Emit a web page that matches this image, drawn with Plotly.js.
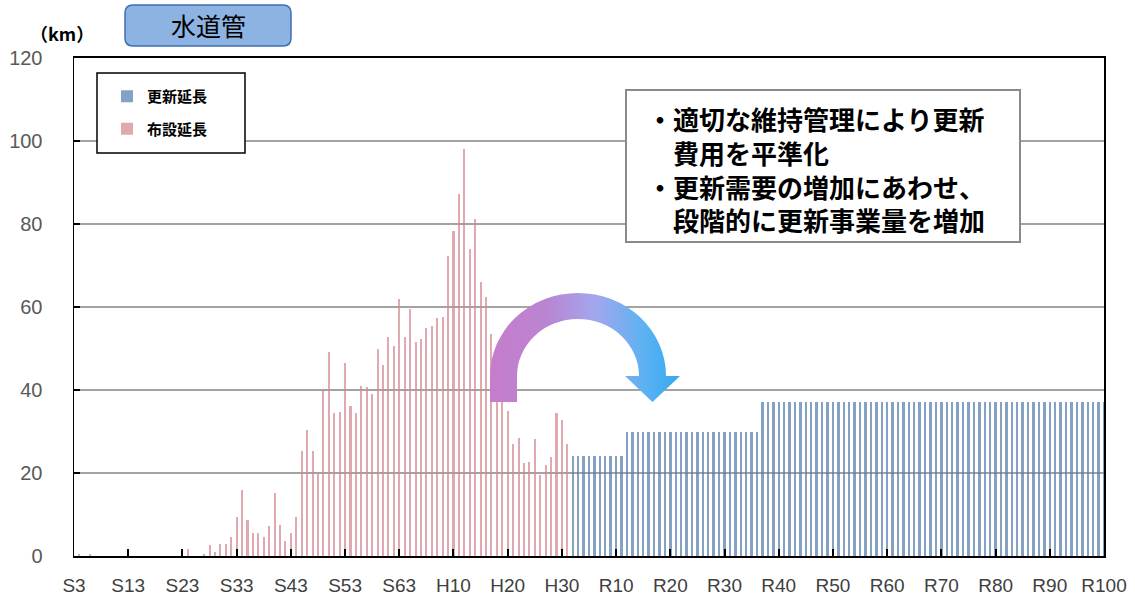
<!DOCTYPE html>
<html>
<head>
<meta charset="utf-8">
<script src="https://cdn.plot.ly/plotly-3.0.1.min.js"></script>
<style>
  html, body { margin: 0; padding: 0; background: #ffffff; }
  #wrap { position: relative; width: 1135px; height: 599px; }
  #chart { position: absolute; left: 0; top: 0; width: 1135px; height: 599px; }
  #arrow { position: absolute; left: 0; top: 0; pointer-events: none; }
</style>
</head>
<body>
<div id="wrap">
  <div id="chart"></div>
  <svg id="arrow" width="1135" height="599" viewBox="0 0 1135 599">
    <defs>
      <linearGradient id="ag" x1="490" y1="0" x2="680" y2="0" gradientUnits="userSpaceOnUse">
        <stop offset="0" stop-color="#c67ccb"/>
        <stop offset="0.3" stop-color="#b985d2"/>
        <stop offset="0.55" stop-color="#a3a6ee"/>
        <stop offset="0.8" stop-color="#5fb2f2"/>
        <stop offset="1" stop-color="#33a9f0"/>
      </linearGradient>
    </defs>
    <path d="M 490 402 L 490 376 A 88 83 0 0 1 666 376 L 680 376 L 652.5 402 L 625 376 L 639 376 A 61 57 0 0 0 517 376 L 517 402 Z" fill="url(#ag)"/>
  </svg>
</div>
<script>
// ---- data ----
// 布設延長 (laid length, km), fiscal years 1928 (S3) .. 2019 (R1)
const layYears = [];
for (let y = 1928; y <= 2019; y++) layYears.push(y);
const layLength = [
  0, 0.5, 0, 0.6, 0, 0, 0, 0, 0, 0,            // 1928-1937
  0, 0, 0, 0, 0, 0, 0, 0, 0, 0,                // 1938-1947
  0, 1.8, 0, 0, 0.6, 2.6, 1, 3, 3, 4.7,        // 1948-1957
  9.5, 16, 8.7, 5.5, 5.5, 4.7, 7.2, 15.3, 7.5, 3.5,      // 1958-1967
  5.6, 9.5, 25.3, 30.3, 25.3, 20, 40, 49.2, 34.4, 34.8,  // 1968-1977
  46.6, 36.1, 34.4, 41, 40.7, 39, 50, 46, 52.7, 50.6,    // 1978-1987
  61.9, 52.8, 59.5, 51.6, 52.4, 55, 55.4, 57.4, 57.7, 72.3, // 1988-1997
  78.4, 87.3, 98, 73.9, 81.2, 66.1, 62.4, 53.6, 45, 40,  // 1998-2007
  35, 27, 28.5, 22.3, 22.7, 28.1, 19.5, 22, 23.9, 34.4,  // 2008-2017
  32.8, 27                                               // 2018-2019
];
// 更新延長 (renewal length, km), 2020 (R2) .. 2118 (R100)
const renewYears = [];
for (let y = 2020; y <= 2118; y++) renewYears.push(y);
const renewLength = [
  24, 24, 24, 24, 24, 24, 24, 24, 24, 24,      // 2020-2029
  30, 30, 30, 30, 30, 30, 30, 30, 30, 30,      // 2030-2039
  30, 30, 30, 30, 30, 30, 30, 30, 30, 30,      // 2040-2049
  30, 30, 30, 30, 30,                          // 2050-2054
  37, 37, 37, 37, 37, 37, 37, 37, 37, 37,      // 2055-2064
  37, 37, 37, 37, 37, 37, 37, 37, 37, 37,      // 2065-2074
  37, 37, 37, 37, 37, 37, 37, 37, 37, 37,      // 2075-2084
  37, 37, 37, 37, 37, 37, 37, 37, 37, 37,      // 2085-2094
  37, 37, 37, 37, 37, 37, 37, 37, 37, 37,      // 2095-2104
  37, 37, 37, 37, 37, 37, 37, 37, 37, 37,      // 2105-2114
  37, 37, 37, 37                               // 2115-2118
];
const tickYears = [1928,1938,1948,1958,1968,1978,1988,1998,2008,2018,2028,2038,2048,2058,2068,2078,2088,2098,2108,2118];
const tickLabels = ["S3","S13","S23","S33","S43","S53","S63","H10","H20","H30","R10","R20","R30","R40","R50","R60","R70","R80","R90","R100"];
const seriesNames = ["更新延長", "布設延長"];
const titleText = "水道管";
const unitText = "（km）";
const noteLines = ["・適切な維持管理により更新", "　費用を平準化", "・更新需要の増加にあわせ、", "　段階的に更新事業量を増加"];

// ---- layout helpers (pixel -> paper) ----
const L = 74, R = 1104, T = 58, B = 556;
const px = x => (x - L) / (R - L);
const py = y => 1 - (y - T) / (B - T);
function roundRect(x0, y0, x1, y1, r) {
  const p = (x, y) => px(x).toFixed(5) + "," + py(y).toFixed(5);
  return "M" + p(x0 + r, y0) + " L" + p(x1 - r, y0) + " Q" + p(x1, y0) + " " + p(x1, y0 + r) +
    " L" + p(x1, y1 - r) + " Q" + p(x1, y1) + " " + p(x1 - r, y1) +
    " L" + p(x0 + r, y1) + " Q" + p(x0, y1) + " " + p(x0, y1 - r) +
    " L" + p(x0, y0 + r) + " Q" + p(x0, y0) + " " + p(x0 + r, y0) + " Z";
}

const jp = "'Noto Sans CJK JP', 'Noto Sans', sans-serif";

const traces = [
  {
    type: "bar", name: seriesNames[0], x: renewYears, y: renewLength,
    width: 0.45, legendgroup: "a",
    marker: { color: "rgba(86,126,174,0.72)", line: { width: 0 } },
    hoverinfo: "x+y"
  },
  {
    type: "bar", name: seriesNames[1], x: layYears, y: layLength,
    width: 0.38, legendgroup: "b",
    marker: { color: "rgba(212,136,146,0.72)", line: { width: 0 } },
    hoverinfo: "x+y"
  }
];

const annotations = [
  { xref: "paper", yref: "paper", x: px(62), y: py(33), xanchor: "center", yanchor: "middle",
    text: unitText, showarrow: false,
    font: { family: jp, size: 18, color: "#000", weight: 700 } },
  { xref: "paper", yref: "paper", x: px(208), y: py(25), xanchor: "center", yanchor: "middle",
    text: titleText, showarrow: false,
    font: { family: jp, size: 25, color: "#000" } },
  { xref: "paper", yref: "paper", x: px(645), y: py(169), xanchor: "left", yanchor: "middle",
    align: "left", text: noteLines.join("<br>"), showarrow: false,
    font: { family: jp, size: 26, color: "#000", weight: 700 } }
];

const shapes = [
  { type: "path", xref: "paper", yref: "paper", path: roundRect(125, 5, 291, 46, 8),
    fillcolor: "#8db3e2", line: { color: "#3f6fb0", width: 1.5 }, layer: "above" },
  { type: "rect", xref: "paper", yref: "paper", x0: px(97), x1: px(245), y0: py(153), y1: py(73),
    fillcolor: "#ffffff", line: { color: "#000", width: 1.5 }, layer: "above" },
  { type: "rect", xref: "paper", yref: "paper", x0: px(626), x1: px(1020), y0: py(242), y1: py(90),
    fillcolor: "#ffffff", line: { color: "#8a8a8a", width: 2 }, layer: "above" }
];

const layout = {
  width: 1135, height: 599,
  margin: { l: L, r: 1135 - R, t: T, b: 599 - B, pad: 0 },
  paper_bgcolor: "#ffffff", plot_bgcolor: "#ffffff",
  barmode: "overlay", bargap: 0,
  showlegend: true,
  legend: {
    x: px(107), y: py(80), xanchor: "left", yanchor: "top",
    bgcolor: "rgba(0,0,0,0)", borderwidth: 0,
    traceorder: "grouped", tracegroupgap: 10,
    font: { family: jp, size: 15, color: "#000", weight: 700 }
  },
  xaxis: {
    range: [1928, 2118], tickmode: "array", tickvals: tickYears, ticktext: tickLabels,
    ticks: "inside", ticklen: 7, tickwidth: 2, tickcolor: "#000",
    showline: true, linecolor: "#000", linewidth: 2, mirror: true,
    showgrid: false, zeroline: false, ticklabelstandoff: 11,
    tickfont: { family: "'Liberation Sans Narrow', 'Liberation Sans', sans-serif", size: 19, color: "#404040" }
  },
  yaxis: {
    range: [0, 120], dtick: 20, tick0: 0,
    ticks: "inside", ticklen: 6, tickwidth: 2, tickcolor: "#000",
    showline: true, linecolor: "#000", linewidth: 1.5, mirror: true,
    showgrid: true, gridcolor: "#a3a3a3", gridwidth: 2, zeroline: false,
    ticklabelstandoff: 26,
    tickfont: { family: "'Liberation Sans', sans-serif", size: 20, color: "#595959" }
  },
  annotations: annotations,
  shapes: shapes
};

Plotly.newPlot("chart", traces, layout, { displayModeBar: false, staticPlot: true });
</script>
</body>
</html>
